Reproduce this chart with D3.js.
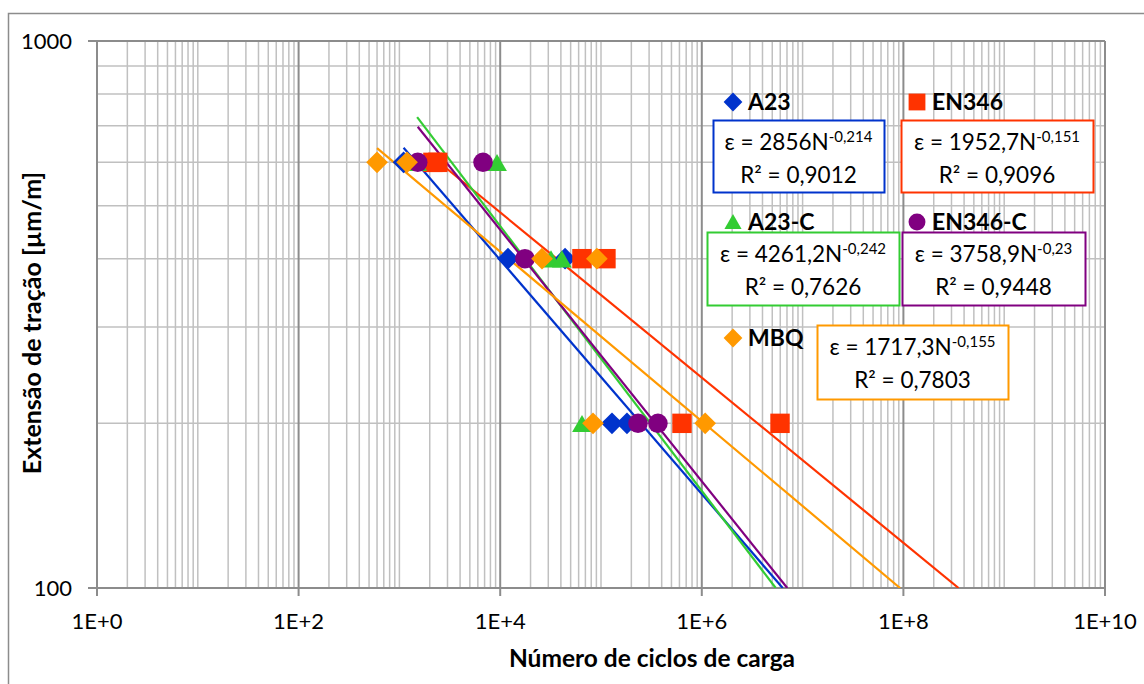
<!DOCTYPE html>
<html>
<head>
<meta charset="utf-8">
<script src="https://cdn.jsdelivr.net/npm/d3@7"></script>
<style>
  body { margin: 0; background: #fff; }
  svg { font-family: Lato, "Noto Sans", sans-serif; }
</style>
</head>
<body>
<svg id="chart" width="1144" height="684"></svg>
<script>
// series data
var seriesNames = ["A23", "EN346", "A23-C", "EN346-C", "MBQ"];
var seriesColors = ["#0033CC", "#FF3300", "#33CC33", "#800080", "#FF9900"];
var seriesSymbols = ["diamond", "square", "triangle", "circle", "diamond"];

var a23N = [1100, 11950, 44000, 128500, 181000];
var a23Eps = [600, 400, 400, 200, 200];
var en346N = [2150, 2400, 64700, 112000, 636000, 5970000];
var en346Eps = [600, 600, 400, 400, 200, 200];
var a23cN = [1500, 9300, 31900, 40900, 64800];
var a23cEps = [600, 600, 400, 400, 200];
var en346cN = [1520, 6750, 17600, 233000, 367000];
var en346cEps = [600, 600, 400, 200, 200];
var mbqN = [600, 1190, 26000, 91000, 83300, 1080000];
var mbqEps = [600, 600, 400, 400, 200, 200];

// power trend lines  eps = a * N^b
var trendA = [2856, 1952.7, 4261.2, 3758.9, 1717.3];
var trendB = [-0.214, -0.151, -0.242, -0.23, -0.155];
var trendCoefText = ["2856", "1952,7", "4261,2", "3758,9", "1717,3"];
var trendExpText = ["-0,214", "-0,151", "-0,242", "-0,23", "-0,155"];
var trendR2Text = ["0,9012", "0,9096", "0,7626", "0,9448", "0,7803"];

var xTickLabels = ["1E+0", "1E+2", "1E+4", "1E+6", "1E+8", "1E+10"];
var yTickLabels = ["100", "1000"];

var allN = [a23N, en346N, a23cN, en346cN, mbqN];
var allEps = [a23Eps, en346Eps, a23cEps, en346cEps, mbqEps];

var svg = d3.select("#chart");
var margin = {top: 41, left: 97, right: 39, bottom: 96},
    width = 1144 - margin.left - margin.right,
    height = 684 - margin.top - margin.bottom;

// outer chart border
svg.append("rect")
    .attr("x", 8.5).attr("y", 13.5)
    .attr("width", 1200).attr("height", 800)
    .attr("fill", "none").attr("stroke", "#8c8c8c").attr("stroke-width", 1.5);

var x = d3.scaleLog().domain([1, 1e10]).range([0, width]);
var y = d3.scaleLog().domain([100, 1000]).range([height, 0]);

var g = svg.append("g")
    .attr("transform", "translate(" + margin.left + "," + margin.top + ")");

// minor grid
var minorX = [];
for (var p = 0; p < 10; p++) {
    for (var k = 1; k < 10; k++) {
        if (!(k == 1 && p % 2 == 0)) minorX.push(k * Math.pow(10, p));
    }
}
g.selectAll(".gx").data(minorX).enter().append("line")
    .attr("x1", function(d) { return x(d); }).attr("x2", function(d) { return x(d); })
    .attr("y1", 0).attr("y2", height)
    .attr("stroke", "#c0c0c0").attr("stroke-width", 1.5);
g.selectAll(".gy").data(d3.range(200, 1000, 100)).enter().append("line")
    .attr("x1", 0).attr("x2", width)
    .attr("y1", function(d) { return y(d); }).attr("y2", function(d) { return y(d); })
    .attr("stroke", "#c0c0c0").attr("stroke-width", 1.5);

// major grid
var majorX = [1, 1e2, 1e4, 1e6, 1e8, 1e10];
g.selectAll(".mx").data(majorX).enter().append("line")
    .attr("x1", function(d) { return x(d); }).attr("x2", function(d) { return x(d); })
    .attr("y1", 0).attr("y2", height + 8)
    .attr("stroke", "#8c8c8c").attr("stroke-width", 2);
g.selectAll(".my").data([100, 1000]).enter().append("line")
    .attr("x1", -9).attr("x2", width)
    .attr("y1", function(d) { return y(d); }).attr("y2", function(d) { return y(d); })
    .attr("stroke", "#8c8c8c").attr("stroke-width", 2);

// tick labels
g.selectAll(".xl").data(majorX).enter().append("text")
    .attr("x", function(d) { return x(d); })
    .attr("y", height + 41)
    .attr("text-anchor", "middle")
    .style("font-size", "22px")
    .text(function(d, i) { return xTickLabels[i]; });
g.selectAll(".yl").data([100, 1000]).enter().append("text")
    .attr("x", -25)
    .attr("y", function(d) { return y(d) + 8; })
    .attr("text-anchor", "end")
    .style("font-size", "22px")
    .text(function(d, i) { return yTickLabels[i]; });

// axis titles
svg.append("text")
    .attr("x", 652).attr("y", 667)
    .attr("text-anchor", "middle")
    .style("font-size", "24.5px").style("font-weight", "bold")
    .text("Número de ciclos de carga");
svg.append("text")
    .attr("transform", "translate(41,323) rotate(-90)")
    .attr("text-anchor", "middle")
    .style("font-size", "25px").style("font-weight", "bold")
    .text("Extensão de tração [µm/m]");

// clip for the trend lines
svg.append("clipPath").attr("id", "clip")
    .append("rect").attr("width", width).attr("height", height);

var plot = g.append("g").attr("clip-path", "url(#clip)");

// trend lines, from the first point down to eps = 100
seriesNames.forEach(function(name, i) {
    var n0 = d3.min(allN[i]);
    var n1 = Math.pow(100 / trendA[i], 1 / trendB[i]);
    var pts = [n0, n1].map(function(n) { return [n, trendA[i] * Math.pow(n, trendB[i])]; });
    plot.append("path")
        .datum(pts)
        .attr("fill", "none")
        .attr("stroke", seriesColors[i])
        .attr("stroke-width", 2.2)
        .attr("d", d3.line().x(function(d) { return x(d[0]); }).y(function(d) { return y(d[1]); }));
});

function symbolType(s) {
    if (s == "diamond") return d3.symbolDiamond2;
    if (s == "square") return d3.symbolSquare2;
    if (s == "triangle") return d3.symbolTriangle2;
    return d3.symbolCircle;
}
function symbolSize(s) {
    if (s == "diamond") return 300;
    if (s == "square") return 480;
    if (s == "triangle") return 280;
    return 300;
}

// markers, drawn in series order
seriesNames.forEach(function(name, i) {
    var pts = allN[i].map(function(n, j) { return [n, allEps[i][j]]; });
    g.selectAll(".m" + i).data(pts).enter().append("path")
        .attr("transform", function(d) {
            var dy = seriesSymbols[i] == "triangle" ? 3 : 0;
            return "translate(" + x(d[0]) + "," + (y(d[1]) + dy) + ")";
        })
        .attr("d", d3.symbol().type(symbolType(seriesSymbols[i])).size(symbolSize(seriesSymbols[i])))
        .attr("fill", seriesColors[i]);
});

// series labels and trend line equations
var labelPos = [[733, 102], [917, 102], [733, 222], [917, 222], [733, 338]];
var boxPos = [[713, 120, 171, 72], [901, 120, 192, 72], [707, 232, 192, 73], [902, 232, 183, 73], [817, 325, 191, 74]];

seriesNames.forEach(function(name, i) {
    var lp = labelPos[i];
    var dy = seriesSymbols[i] == "triangle" ? 2 : 0;
    svg.append("path")
        .attr("transform", "translate(" + lp[0] + "," + (lp[1] + dy) + ")")
        .attr("d", d3.symbol().type(symbolType(seriesSymbols[i])).size(symbolSize(seriesSymbols[i]) * 0.75))
        .attr("fill", seriesColors[i]);
    svg.append("text")
        .attr("x", lp[0] + 15).attr("y", lp[1] + 8)
        .style("font-size", "23px").style("font-weight", "bold")
        .text(name);

    var b = boxPos[i];
    svg.append("rect")
        .attr("x", b[0] + 0.5).attr("y", b[1] + 0.5)
        .attr("width", b[2]).attr("height", b[3])
        .attr("fill", "#fff")
        .attr("stroke", seriesColors[i]).attr("stroke-width", 2);
    var eq = svg.append("text")
        .attr("x", b[0] + b[2] / 2).attr("y", b[1] + 30)
        .attr("text-anchor", "middle")
        .style("font-size", "22.5px");
    eq.append("tspan").text("ε = " + trendCoefText[i] + "N");
    eq.append("tspan").attr("dy", -8).style("font-size", "15px").text(trendExpText[i]);
    svg.append("text")
        .attr("x", b[0] + b[2] / 2).attr("y", b[1] + 63)
        .attr("text-anchor", "middle")
        .style("font-size", "22.5px")
        .text("R² = " + trendR2Text[i]);
});
</script>
</body>
</html>
